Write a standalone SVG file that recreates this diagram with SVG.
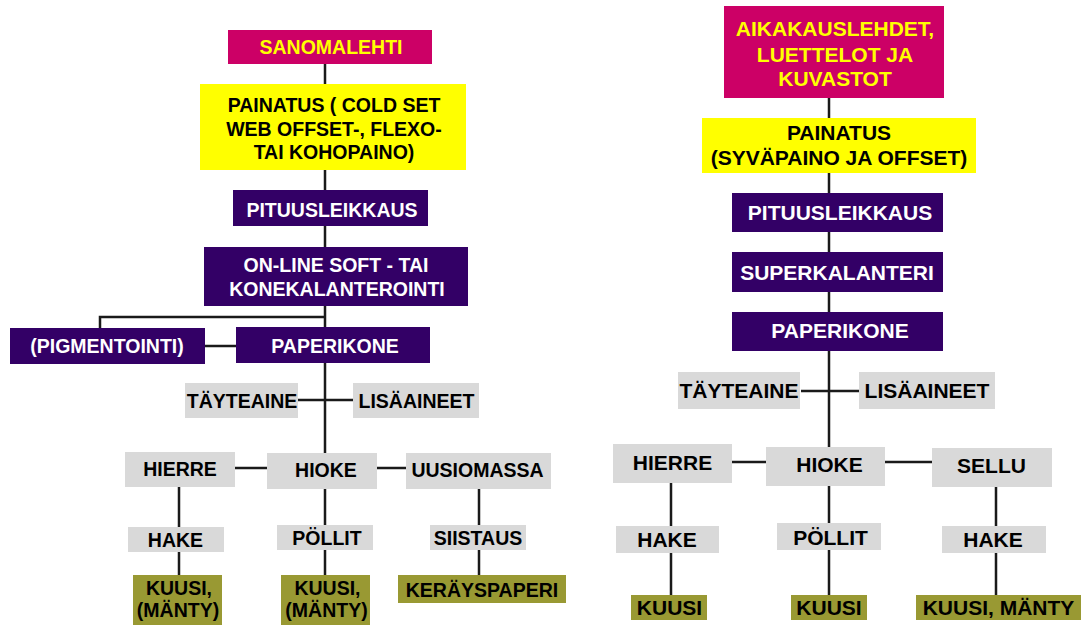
<svg xmlns="http://www.w3.org/2000/svg" width="1089" height="625" viewBox="0 0 1089 625">
<style>
text{font-family:"Liberation Sans",Arial,sans-serif;font-weight:bold;text-anchor:middle}
.mag{fill:#CC0066}.yel{fill:#FFFF00}.pur{fill:#330066}.gry{fill:#D9D9D9}.olv{fill:#999933}
.ty{fill:#FFFF00}.tk{fill:#000}.tw{fill:#fff}
.l{font-size:19.5px}.r{font-size:21px}
.c{stroke:#1a1a1a;stroke-width:2.5;fill:none}
</style>
<rect width="1089" height="625" fill="#fff"/>
<g id="connectors" class="c">
<path d="M325 64V84M325 170V190M325 226V247M325 306V453M325 317H100V328M205 346H236M298 400H353M235 468H267M377 468H406M179 487V527M179 552V575M325 489V525M325 550V575M479 489V525M479 550V575"/>
<path d="M829 98V118M829 173V193M829 232V252M829 292V312M829 351V447M801 391H859M732 462H766M885 462H932M671 483V526M671 553V595M829 486V523M829 550V595M996 487V526M996 553V595"/>
</g>
<g id="sanomalehti"><rect class="mag" x="228" y="30" width="204" height="34"/><text class="ty l" x="331" y="54">SANOMALEHTI</text></g>
<g id="painatus-l"><rect class="yel" x="200" y="84" width="266" height="86"/><text class="tk l" x="334"><tspan x="334" y="112">PAINATUS ( COLD SET</tspan><tspan x="334" y="135.5">WEB OFFSET-, FLEXO-</tspan><tspan x="334" y="159">TAI KOHOPAINO)</tspan></text></g>
<g id="pituus-l"><rect class="pur" x="233" y="190" width="195" height="36"/><text class="tw l" x="332" y="217">PITUUSLEIKKAUS</text></g>
<g id="online"><rect class="pur" x="204" y="247" width="264" height="59"/><text class="tw l"><tspan x="336" y="272">ON-LINE SOFT - TAI</tspan><tspan x="337" y="295.5">KONEKALANTEROINTI</tspan></text></g>
<g id="pigmentointi"><rect class="pur" x="10" y="328" width="195" height="36"/><text class="tw l" x="107" y="353">(PIGMENTOINTI)</text></g>
<g id="paperikone-l"><rect class="pur" x="236" y="327" width="194" height="36"/><text class="tw l" x="335" y="353">PAPERIKONE</text></g>
<g id="tayteaine-l"><rect class="gry" x="185" y="383" width="113" height="35"/><text class="tk l" x="242" y="408">TÄYTEAINE</text></g>
<g id="lisaaineet-l"><rect class="gry" x="353" y="383" width="126" height="35"/><text class="tk l" x="416.5" y="408">LISÄAINEET</text></g>
<g id="hierre-l"><rect class="gry" x="125" y="452" width="110" height="35"/><text class="tk l" x="180" y="476">HIERRE</text></g>
<g id="hioke-l"><rect class="gry" x="267" y="453" width="110" height="36"/><text class="tk l" x="326" y="477">HIOKE</text></g>
<g id="uusiomassa"><rect class="gry" x="406" y="453" width="145" height="36"/><text class="tk l" x="477.5" y="477">UUSIOMASSA</text></g>
<g id="hake-l1"><rect class="gry" x="128" y="527" width="96" height="25"/><text class="tk l" x="175.5" y="547">HAKE</text></g>
<g id="pollit-l"><rect class="gry" x="277" y="525" width="96" height="25"/><text class="tk l" x="327" y="545">PÖLLIT</text></g>
<g id="siistaus"><rect class="gry" x="430" y="525" width="96" height="25"/><text class="tk l" x="478" y="545">SIISTAUS</text></g>
<g id="kuusi-l1"><rect class="olv" x="133" y="575" width="89" height="50"/><text class="tk l"><tspan x="179" y="595">KUUSI,</tspan><tspan x="178" y="617">(MÄNTY)</tspan></text></g>
<g id="kuusi-l2"><rect class="olv" x="281" y="575" width="89" height="50"/><text class="tk l"><tspan x="327.5" y="595">KUUSI,</tspan><tspan x="326.5" y="617">(MÄNTY)</tspan></text></g>
<g id="kerayspaperi"><rect class="olv" x="398" y="575" width="168" height="28"/><text class="tk l" x="482" y="597">KERÄYSPAPERI</text></g>
<g id="aikakauslehdet"><rect class="mag" x="724" y="6" width="220" height="92"/><text class="ty r"><tspan x="835" y="36">AIKAKAUSLEHDET,</tspan><tspan x="835" y="61.5">LUETTELOT JA</tspan><tspan x="835" y="86">KUVASTOT</tspan></text></g>
<g id="painatus-r"><rect class="yel" x="702" y="118" width="274" height="55"/><text class="tk r"><tspan x="839" y="139.5">PAINATUS</tspan><tspan x="839" y="165">(SYVÄPAINO JA OFFSET)</tspan></text></g>
<g id="pituus-r"><rect class="pur" x="732" y="193" width="211" height="39"/><text class="tw r" x="840" y="220">PITUUSLEIKKAUS</text></g>
<g id="superkalanteri"><rect class="pur" x="732" y="252" width="211" height="40"/><text class="tw r" x="837" y="280">SUPERKALANTERI</text></g>
<g id="paperikone-r"><rect class="pur" x="732" y="312" width="211" height="39"/><text class="tw r" x="840" y="338">PAPERIKONE</text></g>
<g id="tayteaine-r"><rect class="gry" x="678" y="372" width="122" height="37"/><text class="tk r" x="739" y="398">TÄYTEAINE</text></g>
<g id="lisaaineet-r"><rect class="gry" x="859" y="372" width="136" height="37"/><text class="tk r" x="927" y="398">LISÄAINEET</text></g>
<g id="hierre-r"><rect class="gry" x="613" y="444" width="119" height="39"/><text class="tk r" x="672.5" y="470">HIERRE</text></g>
<g id="hioke-r"><rect class="gry" x="766" y="447" width="119" height="39"/><text class="tk r" x="829.5" y="472">HIOKE</text></g>
<g id="sellu"><rect class="gry" x="932" y="448" width="120" height="39"/><text class="tk r" x="991.5" y="473">SELLU</text></g>
<g id="hake-r1"><rect class="gry" x="616" y="526" width="103" height="27"/><text class="tk r" x="667" y="547">HAKE</text></g>
<g id="pollit-r"><rect class="gry" x="777" y="523" width="104" height="27"/><text class="tk r" x="830.5" y="545">PÖLLIT</text></g>
<g id="hake-r2"><rect class="gry" x="942" y="526" width="104" height="27"/><text class="tk r" x="993" y="547">HAKE</text></g>
<g id="kuusi-r1"><rect class="olv" x="631" y="595" width="76" height="25"/><text class="tk r" x="669.5" y="614.5">KUUSI</text></g>
<g id="kuusi-r2"><rect class="olv" x="791" y="595" width="76" height="25"/><text class="tk r" x="829" y="614.5">KUUSI</text></g>
<g id="kuusi-manty"><rect class="olv" x="916" y="595" width="165" height="25"/><text class="tk r" x="998.5" y="614.5">KUUSI, MÄNTY</text></g>
</svg>
